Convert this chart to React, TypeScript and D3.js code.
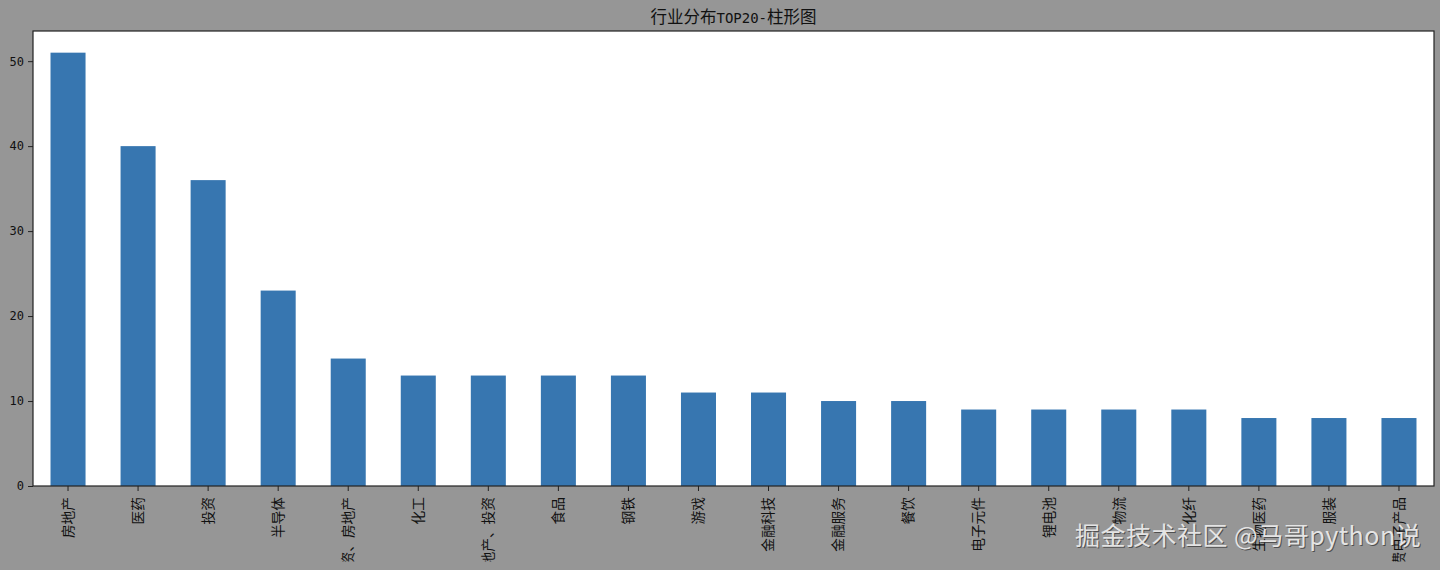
import React, {useEffect,useRef} from 'react';
import * as d3 from 'd3';

const industries = ['房地产','医药','投资','半导体','投资、房地产','化工','房地产、投资','食品','钢铁','游戏','金融科技','金融服务','餐饮','电子元件','锂电池','物流','化纤','生物医药','服装','消费电子产品'];
const counts = [51,40,36,23,15,13,13,13,13,11,11,10,10,9,9,9,9,8,8,8];
const yTicks = [0,10,20,30,40,50];

const cjk = '"Noto Sans CJK SC", sans-serif';
const mono = '"DejaVu Sans Mono", monospace';

const App: React.FC = () => {
    const svgRef = useRef<SVGSVGElement | null>(null);

    useEffect(()=>{
        const width=1440;
        const height=570;
        const margin={top:31,right:6,bottom:84,left:33};

        const svg=d3.select(svgRef.current).attr('width',width).attr('height',height);
        svg.selectAll('*').remove();

        svg.append('rect').attr('width',width).attr('height',height).attr('fill','#969696');

        const x=d3.scaleBand<string>().domain(industries).range([margin.left,width-margin.right]).paddingInner(0.5).paddingOuter(0.25);
        const y=d3.scaleLinear().domain([0,53.55]).range([height-margin.bottom,margin.top]);

        svg.append('rect')
          .attr('x',margin.left)
          .attr('y',margin.top)
          .attr('width',width-margin.left-margin.right)
          .attr('height',height-margin.top-margin.bottom)
          .attr('fill','#fff');

        // bars
        svg.selectAll('rect.bar')
          .data(industries)
          .enter()
          .append('rect')
          .attr('class','bar')
          .attr('x',(d)=>x(d)!)
          .attr('y',(_,i)=>y(counts[i]))
          .attr('width',x.bandwidth())
          .attr('height',(_,i)=>y(0)-y(counts[i]))
          .attr('fill','#3776b0');

        // the long labels run off the bottom of the saved figure
        svg.append('clipPath').attr('id','axis-clip')
          .append('rect').attr('x',0).attr('y',0).attr('width',width).attr('height',561.5-(height-margin.bottom));

        const xAxis=svg.append('g')
          .attr('transform',`translate(0,${height-margin.bottom})`)
          .attr('clip-path','url(#axis-clip)')
          .call(d3.axisBottom(x).tickSize(5).tickSizeOuter(0));
        xAxis.select('.domain').remove();
        xAxis.selectAll('line').attr('stroke','#222');
        xAxis.selectAll<SVGTextElement,string>('text')
          .attr('font-family',cjk)
          .attr('font-size',13.7)
          .attr('fill','#111')
          .attr('text-anchor','end')
          .attr('dy','0.35em')
          .attr('y',0)
          .attr('x',0)
          .attr('transform','translate(0,11) rotate(-90)');

        const yAxis=svg.append('g')
          .attr('transform',`translate(${margin.left},0)`)
          .call(d3.axisLeft(y).tickValues(yTicks).tickSize(5).tickSizeOuter(0));
        yAxis.select('.domain').remove();
        yAxis.selectAll('line').attr('stroke','#222');
        yAxis.selectAll('text')
          .attr('font-family',mono)
          .attr('font-size',12)
          .attr('fill','#111')
          .attr('x',-9);

        // frame
        svg.append('rect')
          .attr('x',margin.left)
          .attr('y',margin.top)
          .attr('width',width-margin.left-margin.right)
          .attr('height',height-margin.top-margin.bottom)
          .attr('fill','none')
          .attr('stroke','#222')
          .attr('stroke-width',1.2);

        // title, half width latin like SimHei
        const title=svg.append('text')
          .attr('x',733.5)
          .attr('y',23)
          .attr('text-anchor','middle')
          .attr('font-family',cjk)
          .attr('font-size',16.5)
          .attr('fill','#111');
        title.append('tspan').text('行业分布');
        title.append('tspan').attr('font-family',mono).attr('font-size',14).text('TOP20-');
        title.append('tspan').text('柱形图');

        // site watermark
        const mark='掘金技术社区 @马哥python说';
        svg.append('text')
          .attr('x',1076)
          .attr('y',546)
          .attr('font-family',cjk)
          .attr('font-size',25)
          .attr('letter-spacing',0.5)
          .attr('fill','#333')
          .attr('opacity',0.7)
          .text(mark);
        svg.append('text')
          .attr('x',1075)
          .attr('y',545)
          .attr('font-family',cjk)
          .attr('font-size',25)
          .attr('letter-spacing',0.5)
          .attr('fill','#e4e4e4')
          .text(mark);
    },[]);

    return <svg ref={svgRef} style={{position:'absolute',left:0,top:0,display:'block'}}></svg>;
};

export default App;
